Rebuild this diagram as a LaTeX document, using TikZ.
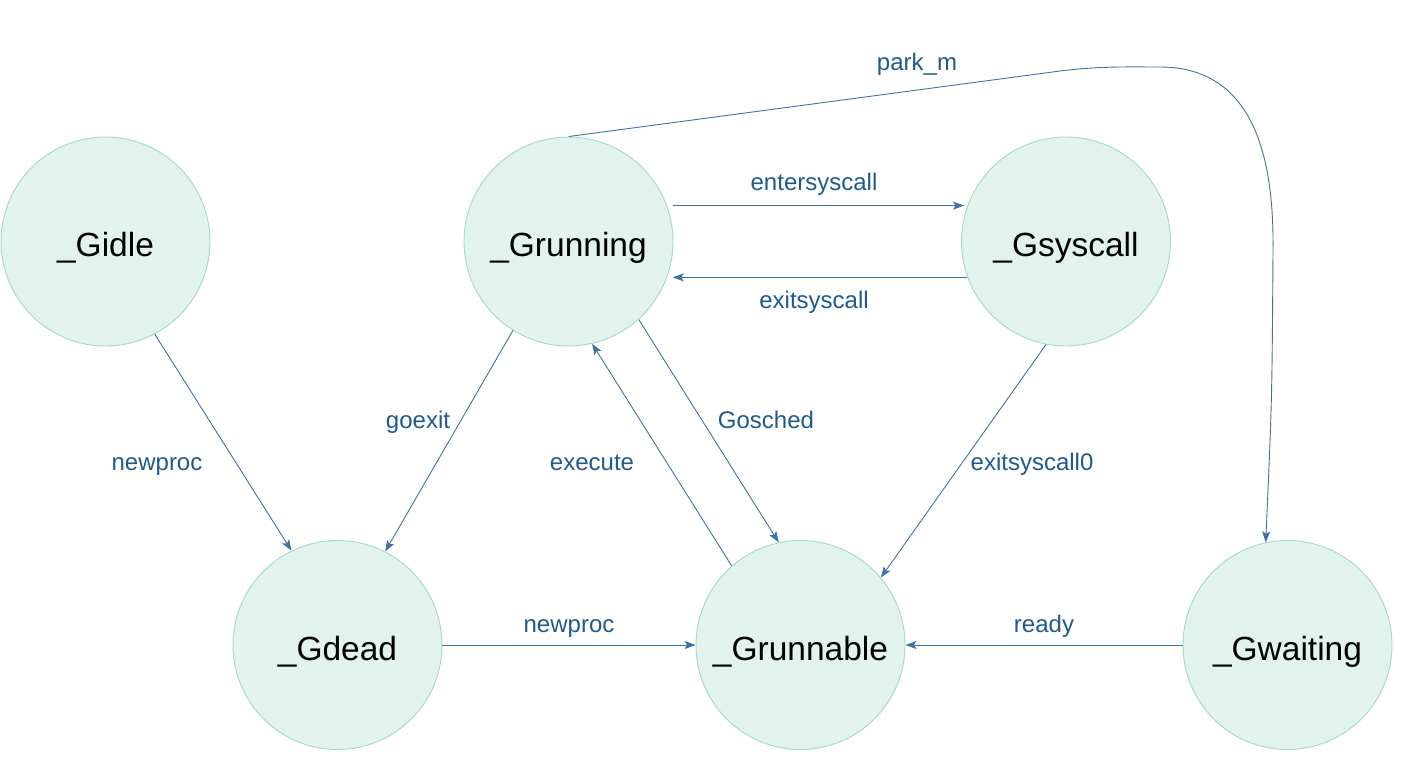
\documentclass[tikz,border=0pt]{standalone}
\usepackage{fontspec}
\setmainfont{Liberation Sans}
\usetikzlibrary{arrows.meta}
\definecolor{stfill}{HTML}{E2F2ED}
\definecolor{stdraw}{HTML}{A3D9C6}
\definecolor{edgec}{HTML}{3F72A4}
\definecolor{labc}{HTML}{1F5A8C}
\tikzset{
  state/.style={circle, fill=stfill, draw=stdraw, line width=0.9pt, minimum size=209pt, inner sep=0pt,
    font=\fontsize{33.5}{40}\selectfont, text=black, text height=30pt, text depth=0pt},
  edge/.style={draw=edgec, line width=0.9pt, -{Stealth[length=11pt, width=8pt, inset=2.5pt]}},
  elab/.style={font=\fontsize{24}{28}\selectfont, text=labc, inner sep=0pt, text height=17pt, text depth=0pt},
}
\begin{document}
\begin{tikzpicture}[x=1pt, y=-1pt]
\useasboundingbox (0,0) rectangle (1415,763);
\node[state] (idle) at (105.5,241.5) {\_Gidle};
\node[state] (run) at (568.5,241.5) {\_Grunning};
\node[state] (sys) at (1066,241.5) {\_Gsyscall};
\node[state] (dead) at (337.5,645) {\_Gdead};
\node[state] (rnb) at (800.5,645) {\_Grunnable};
\node[state] (wait) at (1287.5,645) {\_Gwaiting};

\coordinate (es) at ([xshift=6pt]run.20.4);
\coordinate (xe) at ([xshift=5pt]run.-19.3);
\coordinate (pk1) at (1060,71);
\coordinate (pk2) at (1160,67);
\coordinate (pk3) at (1273,250);

\draw[edge] (idle.-62.6) -- (dead.116.6);
\draw[edge] (run.-122.1) -- (dead.63.4);
\draw[edge] (rnb.131) -- (run.-77.2);
\draw[edge] (run.-48.4) -- (rnb.102.6);
\draw[edge] (es) -- ([xshift=-4pt]es -| sys.159.6);
\draw[edge] (sys.-160.7) -- (sys.-160.7 -| xe);
\draw[edge] (sys.-101.6) -- (rnb.40.6);
\draw[edge] (wait.180) -- (rnb.0);
\draw[edge] (dead.0) -- (rnb.180);
\draw[edge] (run.90) -- (pk1) .. controls (1100,66) and (1130,67) .. (pk2)
  .. controls (1255,67) and (1274,160) .. (pk3) .. controls (1272,400) .. (wait.102.7);

\node[elab] (lpark) at (917,62) {park\_m};
\node[elab] (lenter) at (814,182) {entersyscall};
\node[elab] (lexit) at (814,300) {exitsyscall};
\node[elab] (lgoexit) at (418,420) {goexit};
\node[elab] (lgosched) at (766,420) {Gosched};
\node[elab] (lnew1) at (157,462) {newproc};
\node[elab] (lexec) at (592,462) {execute};
\node[elab] (lexit0) at (1032,462) {exitsyscall0};
\node[elab] (lnew2) at (569,624) {newproc};
\node[elab] (lready) at (1044,624) {ready};
\end{tikzpicture}
\end{document}
